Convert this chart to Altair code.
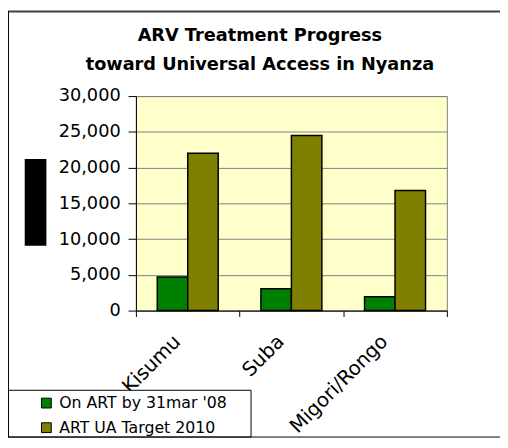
import altair as alt
import pandas as pd

regions = ["Kisumu", "Suba", "Migori/Rongo"]
series = ["On ART by 31mar '08", "ART UA Target 2010"]
on_art = [4700, 3050, 1950]
ua_target = [22000, 24500, 16800]
colors = ["#008000", "#808000"]
y_ticks = [0, 5000, 10000, 15000, 20000, 25000, 30000]

rows = []
for i, r in enumerate(regions):
    rows.append({"region": r, "series": series[0], "value": on_art[i]})
    rows.append({"region": r, "series": series[1], "value": ua_target[i]})
df = pd.DataFrame(rows)
one = pd.DataFrame({"k": [0]})

FONT = "DejaVu Sans"

bars = alt.Chart(df).mark_bar(stroke="black", strokeWidth=1.5).encode(
    x=alt.X("region:N", sort=regions,
            scale=alt.Scale(paddingInner=0, paddingOuter=0),
            axis=alt.Axis(title=None, labelAngle=-45, labelAlign="right",
                          labelBaseline="middle", labelFontSize=20, labelFont=FONT,
                          labelColor="black", labelPadding=22, labelOffset=-11,
                          tickBand="extent", tickSize=6, tickColor="black",
                          domainColor="black", grid=False)),
    xOffset=alt.XOffset("series:N", sort=series,
                        scale=alt.Scale(paddingInner=0, paddingOuter=0.7)),
    y=alt.Y("value:Q", scale=alt.Scale(domain=[0, 30000], nice=False),
            axis=alt.Axis(title=None, values=y_ticks, format=",d", labelFontSize=18,
                          labelFont=FONT, labelColor="black", labelPadding=8,
                          tickSize=8, tickColor="black", domainColor="black",
                          grid=True, gridColor="#808080", gridWidth=1)),
    fill=alt.Fill("series:N", sort=series,
                  scale=alt.Scale(domain=series, range=colors),
                  legend=alt.Legend(title=None, orient="none", legendX=-99, legendY=304,
                                    symbolType="square", symbolSize=100,
                                    symbolStrokeColor="black", symbolStrokeWidth=1,
                                    labelFontSize=16, labelFont=FONT, labelColor="black",
                                    labelLimit=300, rowPadding=9, labelOffset=5)),
)

legend_box = alt.Chart(one).mark_rect(fill="white", stroke="black", strokeWidth=1).encode(
    x=alt.value(-130), x2=alt.value(117), y=alt.value(299), y2=alt.value(346.5))

black_box = alt.Chart(one).mark_rect(fill="black").encode(
    x=alt.value(-113), x2=alt.value(-91), y=alt.value(64), y2=alt.value(152))

frame_top = alt.Chart(one).mark_rule(color="#404040", strokeWidth=2).encode(
    x=alt.value(-130), x2=alt.value(370), y=alt.value(-86))
frame_left = alt.Chart(one).mark_rule(color="black", strokeWidth=1).encode(
    x=alt.value(-129.5), y=alt.value(-86), y2=alt.value(346.5))
frame_bottom = alt.Chart(one).mark_rule(color="black", strokeWidth=1).encode(
    x=alt.value(-130), x2=alt.value(370), y=alt.value(346.5))

chart = alt.layer(bars, legend_box, black_box, frame_top, frame_left, frame_bottom).properties(
    width=316, height=218,
    autosize="none",
    padding={"left": 130, "top": 86, "right": 54, "bottom": 128},
    title=alt.Title(["ARV Treatment Progress", "toward Universal Access in Nyanza"],
                    fontSize=18, font=FONT, fontWeight="bold", color="black",
                    dx=-32, offset=-65, lineHeight=30),
    background="white",
).configure_view(fill="#FFFFCC", stroke="#808080", strokeWidth=1)

chart.save("out.html", embed_options={"renderer": "svg", "actions": False})
